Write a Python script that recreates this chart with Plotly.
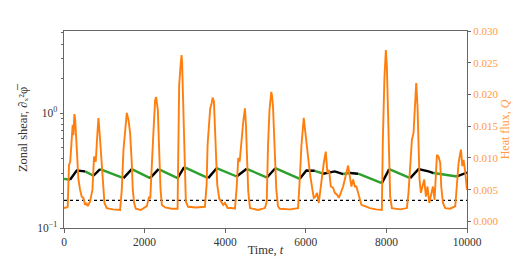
import plotly.graph_objects as go

# ---- data ----
time_q = [0, 10, 67, 92, 124, 154, 191, 216, 234, 258, 278, 316, 358, 398, 440, 482, 522, 552, 589, 646,
          706, 746, 788, 830, 855, 895, 937, 979, 1004, 1061, 1210, 1392, 1434, 1476, 1516, 1558, 1600, 1640,
          1682, 1707, 1740, 1782, 1906, 2055, 2112, 2142, 2162, 2197, 2222, 2261, 2286, 2304, 2328, 2361,
          2396, 2428, 2510, 2676, 2818, 2833, 2858, 2893, 2917, 2930, 2942, 2967, 2999, 3024, 3081, 3273,
          3496, 3539, 3563, 3596, 3628, 3658, 3688, 3720, 3745, 3770, 3802, 3852, 3894, 3951, 3993, 4060,
          4160, 4242, 4284, 4324, 4359, 4408, 4448, 4490, 4515, 4548, 4572, 4615, 4813, 4987, 5030, 5062,
          5099, 5144, 5161, 5186, 5228, 5268, 5310, 5353, 5609, 5808, 5850, 5890, 5949, 5989, 6031, 6073,
          6113, 6155, 6198, 6237, 6280, 6322, 6362, 6404, 6446, 6496, 6536, 6578, 6620, 6677, 6719, 6777,
          6819, 6868, 6926, 6968, 7008, 7050, 7092, 7132, 7174, 7217, 7256, 7298, 7341, 7380, 7465, 7589,
          7746, 7887, 7912, 7927, 7952, 7987, 8012, 8037, 8069, 8094, 8136, 8342, 8509, 8548, 8591, 8633,
          8673, 8715, 8740, 8772, 8797, 8822, 8857, 8896, 8939, 8981, 9021, 9063, 9113, 9155, 9195, 9229,
          9254, 9294, 9336, 9361, 9403, 9460, 9585, 9709, 9751, 9791, 9833, 9851, 9883, 9915, 9950, 9982,
          10000]
heat_flux = [0.0021, 0.0021, 0.0022, 0.0023, 0.0089, 0.0094, 0.0140, 0.0152, 0.0136, 0.0169, 0.0160, 0.0113,
             0.0066, 0.0050, 0.0039, 0.0037, 0.0026, 0.0029, 0.0024, 0.0031, 0.0050, 0.0102, 0.0094, 0.0140,
             0.0163, 0.0129, 0.0087, 0.0050, 0.0029, 0.0021, 0.0019, 0.0018, 0.0050, 0.0113, 0.0149, 0.0171,
             0.0160, 0.0140, 0.0092, 0.0050, 0.0029, 0.0020, 0.0018, 0.0024, 0.0039, 0.0036, 0.0066, 0.0102,
             0.0144, 0.0191, 0.0196, 0.0187, 0.0176, 0.0113, 0.0050, 0.0026, 0.0022, 0.0020, 0.0020, 0.0094,
             0.0215, 0.0246, 0.0262, 0.0251, 0.0226, 0.0147, 0.0069, 0.0031, 0.0023, 0.0022, 0.0023, 0.0058,
             0.0121, 0.0147, 0.0178, 0.0184, 0.0195, 0.0189, 0.0142, 0.0094, 0.0058, 0.0036, 0.0031, 0.0026,
             0.0029, 0.0021, 0.0021, 0.0020, 0.0053, 0.0100, 0.0094, 0.0136, 0.0157, 0.0178, 0.0152, 0.0089,
             0.0047, 0.0021, 0.0018, 0.0021, 0.0031, 0.0118, 0.0176, 0.0204, 0.0198, 0.0181, 0.0118, 0.0050,
             0.0024, 0.0020, 0.0019, 0.0021, 0.0066, 0.0118, 0.0163, 0.0136, 0.0118, 0.0092, 0.0071, 0.0055,
             0.0037, 0.0039, 0.0045, 0.0029, 0.0050, 0.0071, 0.0092, 0.0110, 0.0076, 0.0081, 0.0055, 0.0053,
             0.0045, 0.0042, 0.0037, 0.0045, 0.0055, 0.0066, 0.0076, 0.0088, 0.0071, 0.0055, 0.0066, 0.0055,
             0.0055, 0.0045, 0.0034, 0.0026, 0.0024, 0.0021, 0.0019, 0.0018, 0.0129, 0.0181, 0.0228, 0.0270,
             0.0244, 0.0181, 0.0087, 0.0039, 0.0021, 0.0019, 0.0021, 0.0045, 0.0087, 0.0129, 0.0139, 0.0191,
             0.0218, 0.0181, 0.0113, 0.0066, 0.0045, 0.0055, 0.0066, 0.0039, 0.0055, 0.0029, 0.0045, 0.0055,
             0.0034, 0.0076, 0.0105, 0.0102, 0.0092, 0.0055, 0.0029, 0.0021, 0.0020, 0.0024, 0.0055, 0.0092,
             0.0108, 0.0113, 0.0087, 0.0097, 0.0081, 0.0060, 0.0050]

shear_t = [0, 109, 149, 316, 522, 731, 895, 1476, 1682, 2137, 2346, 2818, 2982, 3578, 3787, 4284, 4533,
           5037, 5243, 5850, 6014, 6222, 6429, 6719, 6926, 7092, 7298, 7887, 8069, 8591, 8797, 9046, 9170,
           9751, 10000]
shear_v = [0.268, 0.263, 0.263, 0.317, 0.311, 0.285, 0.326, 0.272, 0.326, 0.272, 0.326, 0.272, 0.339,
           0.272, 0.332, 0.281, 0.328, 0.275, 0.332, 0.268, 0.317, 0.315, 0.297, 0.311, 0.295, 0.301, 0.297,
           0.246, 0.326, 0.272, 0.326, 0.311, 0.301, 0.281, 0.304]
# phase of the segment that starts at each point: g = decaying (green), k = growing (black)
shear_phase = ["g", "g", "k", "k", "g", "k", "g", "k", "g", "k", "g", "k", "g", "k", "g", "k", "g", "k",
               "g", "k", "k", "g", "k", "k", "g", "k", "g", "k", "g", "k", "k", "k", "g", "k", "k"]
shear_threshold = 0.174

x_ticks = [0, 2000, 4000, 6000, 8000, 10000]
x_ticktext = ["0", "2000", "4000", "6000", "8000", "10000"]
q_ticks = [0.000, 0.005, 0.010, 0.015, 0.020, 0.025, 0.030]
shear_ticks = [0.1, 1]
shear_ticktext = ["10<sup>\u22121</sup>", "10<sup>0</sup>"]
shear_minor = [0.2, 0.3, 0.4, 0.5, 0.6, 0.7, 0.8, 0.9, 2, 3, 4, 5]


def segments(phase):
    xs, ys = [], []
    for i in range(len(shear_t) - 1):
        if shear_phase[i] == phase:
            if not xs or xs[-1] != shear_t[i]:
                if xs:
                    xs.append(None)
                    ys.append(None)
                xs.append(shear_t[i])
                ys.append(shear_v[i])
            xs.append(shear_t[i + 1])
            ys.append(shear_v[i + 1])
    return xs, ys


gx, gy = segments("g")
kx, ky = segments("k")

FONT = "Liberation Serif"
ORANGE = "#ff7f0e"
LIGHT_ORANGE = "#ff9a45"
TICK_SIZE = 11.5
TITLE_SIZE = 12.5
fig = go.Figure()
fig.add_trace(go.Scatter(x=[x_ticks[0], x_ticks[-1]], y=[shear_threshold, shear_threshold], mode="lines",
                         line=dict(color="black", width=1.2, dash="dot"), yaxis="y", showlegend=False))
fig.add_trace(go.Scatter(x=gx, y=gy, mode="lines", line=dict(color="#2ca02c", width=2.4),
                         yaxis="y", showlegend=False))
fig.add_trace(go.Scatter(x=kx, y=ky, mode="lines", line=dict(color="black", width=2.4),
                         yaxis="y", showlegend=False))
fig.add_trace(go.Scatter(x=time_q, y=heat_flux, mode="lines", line=dict(color=ORANGE, width=1.9),
                         yaxis="y2", showlegend=False))

axis_line = "#666666"
# the page body adds an 8px offset at top/left, so the figure is 8px smaller and l/t margins are shifted
fig.update_layout(
    width=511, height=249,
    margin=dict(l=56, r=52, t=23, b=29),
    paper_bgcolor="white", plot_bgcolor="white",
    font=dict(family=FONT, size=TICK_SIZE, color="#333333"),
    xaxis=dict(range=[0, 10000], tickvals=x_ticks, ticktext=x_ticktext, ticks="outside", ticklen=3.5,
               tickcolor=axis_line, automargin=False,
               showline=True, linecolor=axis_line, linewidth=1, mirror=True, showgrid=False, zeroline=False,
               title=dict(text="Time, <i>t</i>", standoff=2, font=dict(size=TITLE_SIZE)),
               tickfont=dict(size=TICK_SIZE)),
    yaxis=dict(type="log", range=[-1, 0.716], tickvals=shear_ticks, ticktext=shear_ticktext,
               ticks="outside", ticklen=3.5, tickcolor=axis_line, automargin=False,
               minor=dict(tickvals=shear_minor, ticks="outside", ticklen=2, tickcolor=axis_line),
               showline=True, linecolor=axis_line, linewidth=1, showgrid=False, zeroline=False,
               title=dict(text="Zonal shear, \u2202\u2093\u00b2\u03c6\u0305", standoff=6,
                          font=dict(size=TITLE_SIZE)),
               tickfont=dict(size=TICK_SIZE)),
    yaxis2=dict(overlaying="y", side="right", range=[-0.00104, 0.030], tickvals=q_ticks,
                tickformat=".3f", ticks="outside", ticklen=3, tickcolor=axis_line, automargin=False,
                showline=True, linecolor=axis_line, linewidth=1, showgrid=False, zeroline=False,
                tickfont=dict(size=11, color=LIGHT_ORANGE),
                title=dict(text="Heat flux, <i>Q</i>", standoff=2,
                           font=dict(size=12, color=LIGHT_ORANGE))),
)

fig.write_html("out.html")
